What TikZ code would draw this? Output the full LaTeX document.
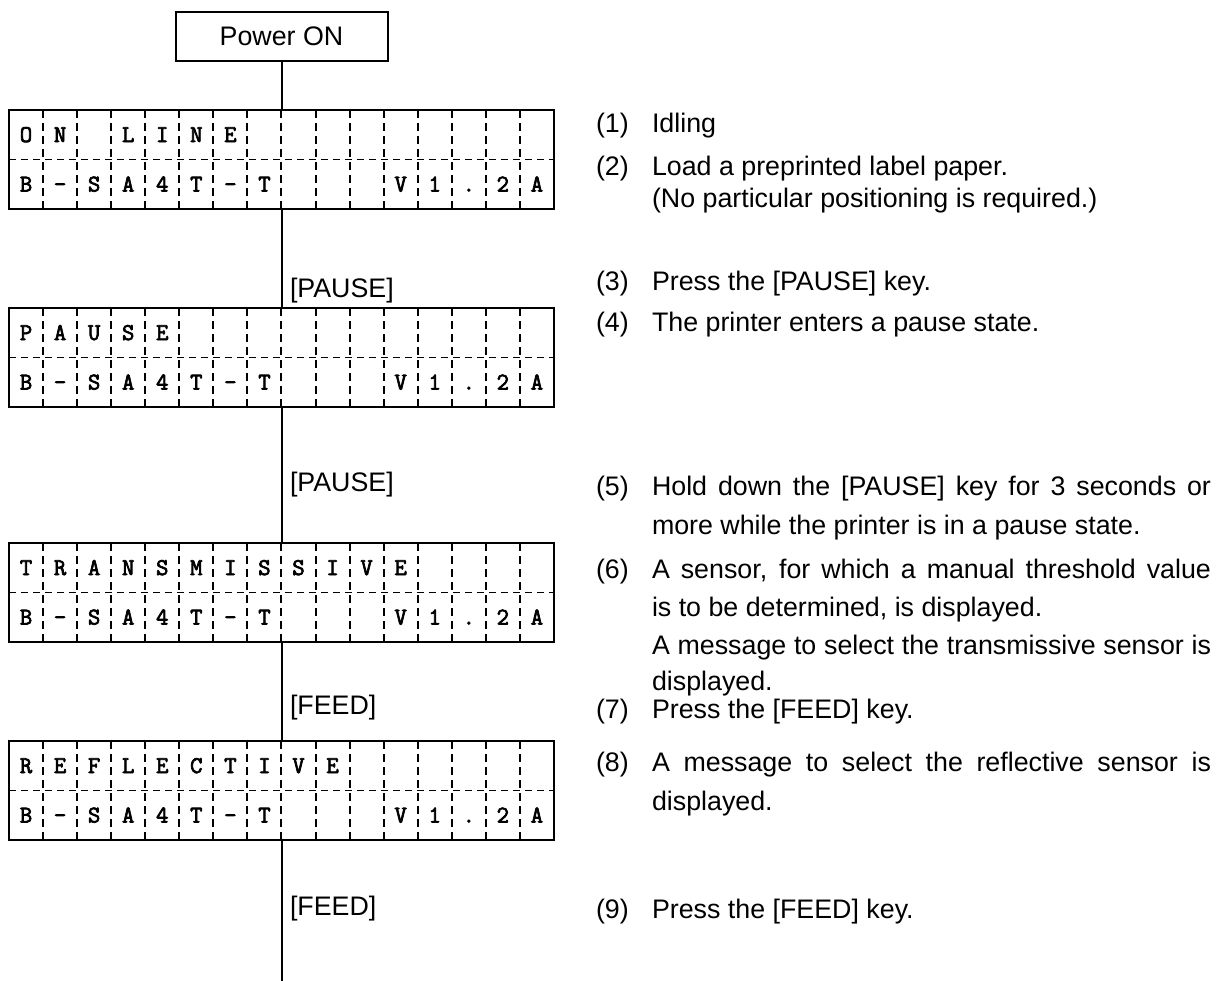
\documentclass[tikz,border=0pt]{standalone}
\usepackage{fontspec}
\setmainfont{Liberation Sans}
\newfontfamily\lcdfont{Latin Modern Mono}[FakeBold=3]
\newcommand\cellw{34.06}
\newcommand\lcdpanel[4]{%
  \foreach \k in {1,...,15} \draw[vgrid] (9+\k*\cellw,#2) -- (9+\k*\cellw,#2+99);
  \node[lcdbox] (#1) at (281.5,#2+49.5) {};
  \draw[hgrid] (#1.west) -- (#1.east);
  \foreach \c [count=\i] in {#3} \node[ch] at (9+\i*\cellw-\cellw/2,#2+32) {\c};
  \foreach \c [count=\i] in {#4} \node[ch] at (9+\i*\cellw-\cellw/2,#2+81.5) {\c};
}
\newcommand\jline[1]{\makebox[279.5pt][s]{#1}}
\begin{document}
\begin{tikzpicture}[x=0.5pt,y=-0.5pt,
  every node/.style={inner sep=0pt, outer sep=0pt},
  conn/.style={line width=1pt},
  lcdbox/.style={draw, line width=1pt, minimum width=272.5pt, minimum height=49.5pt},
  pwbox/.style={draw, line width=1pt, minimum width=106pt, minimum height=24.5pt, font=\fontsize{13.4}{16}\selectfont},
  vgrid/.style={line width=1pt, dash pattern=on 4pt off 2.5pt},
  hgrid/.style={line width=0.9pt, dash pattern=on 3.5pt off 2.5pt},
  ch/.style={anchor=base, font=\lcdfont\fontsize{12}{14}\selectfont},
  key/.style={anchor=west, font=\fontsize{13.4}{16}\selectfont},
  txt/.style={anchor=base west, font=\fontsize{13.4}{16}\selectfont},
]
\useasboundingbox (0,0) rectangle (1223,981);

\node[pwbox] (pw) at (281.5,36.5) {Power ON};

\lcdpanel{l1}{110}{O,N,{},L,I,N,E}{B,-,S,A,4,T,-,T,{},{},{},V,1,.,2,A}
\lcdpanel{l2}{308}{P,A,U,S,E}{B,-,S,A,4,T,-,T,{},{},{},V,1,.,2,A}
\lcdpanel{l3}{543}{T,R,A,N,S,M,I,S,S,I,V,E}{B,-,S,A,4,T,-,T,{},{},{},V,1,.,2,A}
\lcdpanel{l4}{741}{R,E,F,L,E,C,T,I,V,E}{B,-,S,A,4,T,-,T,{},{},{},V,1,.,2,A}

\coordinate (tail) at (281.5,981);
\draw[conn] (pw.south) -- (l1.north);
\draw[conn] (l1.south) -- (l2.north);
\draw[conn] (l2.south) -- (l3.north);
\draw[conn] (l3.south) -- (l4.north);
\draw[conn] (l4.south) -- (tail);

\node[key] (k1) at (290,291) {[PAUSE]};
\node[key] (k2) at (290,485) {[PAUSE]};
\node[key] (k3) at (290,708) {[FEED]};
\node[key] (k4) at (290,909) {[FEED]};

% numbers
\node[txt] (n1) at (596,132) {(1)};
\node[txt] (n2) at (596,175) {(2)};
\node[txt] (n3) at (596,290) {(3)};
\node[txt] (n4) at (596,331) {(4)};
\node[txt] (n5) at (596,495) {(5)};
\node[txt] (n6) at (596,578) {(6)};
\node[txt] (n7) at (596,718) {(7)};
\node[txt] (n8) at (596,771) {(8)};
\node[txt] (n9) at (596,918) {(9)};

% texts
\node[txt] (t1) at (652,132) {Idling};
\node[txt] (t2a) at (652,175) {Load a preprinted label paper.};
\node[txt] (t2b) at (652,207) {(No particular positioning is required.)};
\node[txt] (t3) at (652,290) {Press the [PAUSE] key.};
\node[txt] (t4) at (652,331) {The printer enters a pause state.};
\node[txt] (t5a) at (652,495) {\jline{Hold down the [PAUSE] key for 3 seconds or}};
\node[txt] (t5b) at (652,534) {more while the printer is in a pause state.};
\node[txt] (t6a) at (652,578) {\jline{A sensor, for which a manual threshold value}};
\node[txt] (t6b) at (652,616.5) {is to be determined, is displayed.};
\node[txt] (t6c) at (652,654.5) {\jline{A message to select the transmissive sensor is}};
\node[txt] (t6d) at (652,690) {displayed.};
\node[txt] (t7) at (652,718) {Press the [FEED] key.};
\node[txt] (t8a) at (652,771) {\jline{A message to select the reflective sensor is}};
\node[txt] (t8b) at (652,810) {displayed.};
\node[txt] (t9) at (652,918) {Press the [FEED] key.};
\end{tikzpicture}
\end{document}
